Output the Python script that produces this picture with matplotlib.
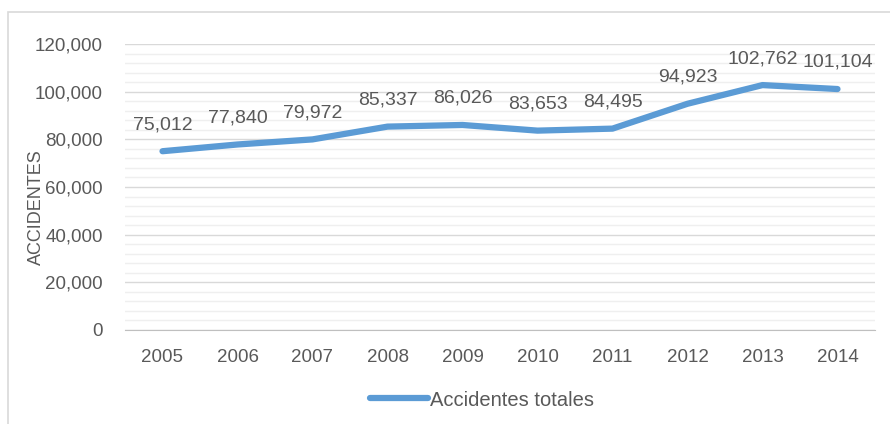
import matplotlib
matplotlib.use('Agg')
import matplotlib.pyplot as plt
from matplotlib.ticker import MultipleLocator, FuncFormatter
from matplotlib.patches import Rectangle

years = ['2005', '2006', '2007', '2008', '2009', '2010', '2011', '2012', '2013', '2014']
accidents = [75012, 77840, 79972, 85337, 86026, 83653, 84495, 94923, 102762, 101104]

plt.rcParams['font.family'] = ['Liberation Sans', 'DejaVu Sans']
text_col = '#595959'
line_col = '#5B9BD5'

fig = plt.figure(figsize=(8.9, 4.24), dpi=100)
ax = fig.add_axes([125 / 890, 1 - 330 / 424, 750 / 890, 286 / 424])

# chart border
fig.patches.append(Rectangle((8 / 890, -0.1), 1.2, (424 - 12) / 424 + 0.1,
                             transform=fig.transFigure, fill=False,
                             edgecolor='#D9D9D9', linewidth=1.2))

x = list(range(len(years)))
ax.plot(x, accidents, color=line_col, linewidth=4.5, solid_capstyle='round',
        solid_joinstyle='round', label='Accidentes totales', zorder=3)

for xi, v in zip(x, accidents):
    ax.annotate(f'{v:,}', (xi, v), xytext=(0, 13), textcoords='offset points',
                ha='center', va='bottom', fontsize=14, color=text_col)

ax.set_xlim(-0.5, len(years) - 0.5)
ax.set_ylim(0, 120000)
ax.set_xticks(x)
ax.set_xticklabels(years)
ax.yaxis.set_major_locator(MultipleLocator(20000))
ax.yaxis.set_minor_locator(MultipleLocator(4000))
ax.yaxis.set_major_formatter(FuncFormatter(lambda v, p: f'{int(v):,}'))
ax.grid(axis='y', which='major', color='#D9D9D9', linewidth=1)
ax.grid(axis='y', which='minor', color='#EFEFEF', linewidth=1)
ax.set_axisbelow(True)

for s in ['top', 'right', 'left']:
    ax.spines[s].set_visible(False)
ax.spines['bottom'].set_color('#BFBFBF')
ax.tick_params(axis='both', which='both', length=0, labelsize=13.5, labelcolor=text_col)
ax.tick_params(axis='x', pad=14)
ax.tick_params(axis='y', pad=16)

ax.set_ylabel('ACCIDENTES', fontsize=13, color=text_col)
ax.yaxis.set_label_coords(-80 / 750, 0.43)

leg = fig.legend(loc='center', bbox_to_anchor=(482 / 890, 1 - 400 / 424), frameon=False,
                 fontsize=14.5, handlelength=2.9, handletextpad=0.1)
for t in leg.get_texts():
    t.set_color(text_col)

fig.savefig('out.png', dpi=100)
